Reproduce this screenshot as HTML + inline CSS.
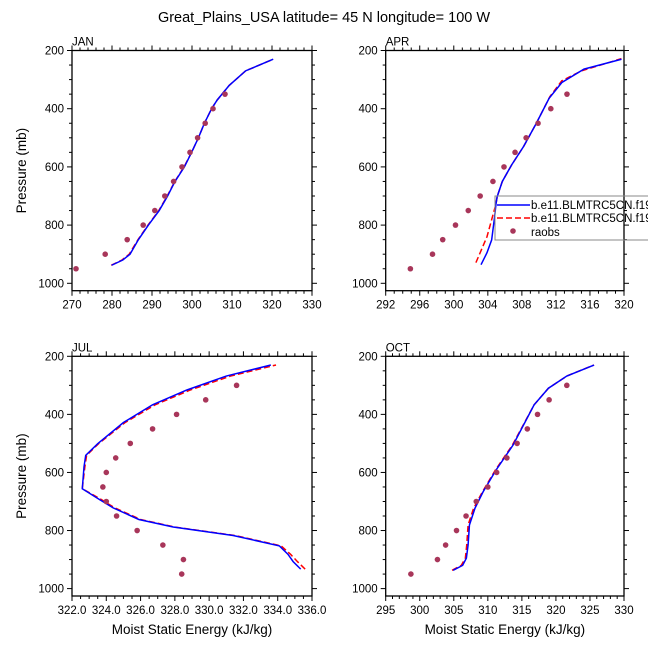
<!DOCTYPE html>
<html><head><meta charset="utf-8"><style>
body{margin:0;background:#fff}
svg{display:block;font-family:"Liberation Sans",sans-serif}
</style></head><body>
<svg id="c" width="648" height="649" viewBox="0 0 648 649" xmlns="http://www.w3.org/2000/svg">
<text x="324" y="22" text-anchor="middle" font-size="14.5">Great_Plains_USA  latitude= 45 N longitude= 100 W</text>
</svg>
<script>
const janModelP=[938,920,900,850,800,750,700,650,600,550,500,450,400,370,320,270,230];
const janModelX=[279.9,282.7,284.5,286.6,289.1,291.8,293.9,295.75,298.1,299.9,301.6,303.1,304.9,306.3,309.3,313.4,320.3];
const janRedX=[279.8,282.5,284.3,286.5,289.0,291.7,293.8,295.7,298.0,299.9,301.6,303.1,304.9,306.3,309.3,313.4,320.3];
const janObsP=[950,900,850,800,750,700,650,600,550,500,450,400,350];
const janObsX=[271,278.3,283.8,287.8,290.7,293.2,295.4,297.5,299.5,301.4,303.3,305.25,308.25];

const aprModelP=[936,895,851,771,727,702,650,593,530,450,364,310,264,230];
const aprModelX=[303.2,303.9,304.45,304.8,304.96,305.1,305.7,306.8,308.2,309.7,311.2,312.7,315.3,319.7];
const aprRedP=[929,840,727,702,650,593,530,450,358,304,270,228];
const aprRedX=[302.6,303.9,304.96,305.1,305.7,306.8,308.2,309.7,311.3,312.7,315.0,319.7];
const aprObsP=[950,900,850,800,750,700,650,600,550,500,450,400,350];
const aprObsX=[294.9,297.5,298.7,300.2,301.7,303.1,304.6,305.9,307.2,308.5,309.9,311.4,313.3];

const julModelP=[933,907,882,853,817,788,762,722,693,656,581,541,501,428,367,316,268,230];
const julModelX=[335.34,334.9,334.6,334.1,331.4,327.9,325.9,324.4,323.6,322.6,322.7,322.8,323.5,325.0,326.7,328.7,331.0,333.6];
const julRedX=[335.6,335.15,334.75,334.2,331.5,328.0,326.0,324.5,323.7,322.6,322.75,322.85,323.55,325.1,326.85,328.9,331.25,333.9];
const julObsP=[950,900,850,800,750,700,650,600,550,500,450,400,350,300];
const julObsX=[328.4,328.5,327.3,325.8,324.6,324.0,323.8,324.0,324.55,325.4,326.7,328.1,329.8,331.6];

const octModelP=[937,920,895,850,781,724,667,592,506,367,310,268,230];
const octModelX=[304.9,306.3,306.85,307.1,307.3,308.1,309.3,311.2,313.7,316.8,318.9,321.6,325.6];
const octRedX=[304.75,306.1,306.7,306.9,307.1,307.9,309.2,311.1,313.6,316.8,318.9,321.6,325.6];
const octObsP=[950,900,850,800,750,700,650,600,550,500,450,400,350,300];
const octObsX=[298.7,302.6,303.8,305.4,306.8,308.3,310.0,311.3,312.8,314.3,315.8,317.3,319.0,321.6];

const NS="http://www.w3.org/2000/svg";
const svg=document.getElementById('c');
function mk(tag,attrs,parent){const e=document.createElementNS(NS,tag);for(const k in attrs)e.setAttribute(k,attrs[k]);(parent||svg).appendChild(e);return e;}

const panels=[
 {name:'jan',title:'JAN',L:72,R:312,T:50.5,B:290.7,xmin:270,xmax:330,maj:10,min:2,dec:0,
  mp:janModelP,mx:janModelX,rp:janModelP,rx:janRedX,op:janObsP,ox:janObsX,ylab:true,xlab:false},
 {name:'apr',title:'APR',L:385.7,R:624,T:50.5,B:290.7,xmin:292,xmax:320,maj:4,min:1,dec:0,
  mp:aprModelP,mx:aprModelX,rp:aprRedP,rx:aprRedX,op:aprObsP,ox:aprObsX,ylab:false,xlab:false,legend:true},
 {name:'jul',title:'JUL',L:72,R:312,T:356.3,B:596,xmin:322,xmax:336,maj:2,min:0.5,dec:1,
  mp:julModelP,mx:julModelX,rp:julModelP,rx:julRedX,op:julObsP,ox:julObsX,ylab:true,xlab:true},
 {name:'oct',title:'OCT',L:385.7,R:624,T:356.3,B:596,xmin:295,xmax:330,maj:5,min:1,dec:0,
  mp:octModelP,mx:octModelX,rp:octModelP,rx:octRedX,op:octObsP,ox:octObsX,ylab:false,xlab:true}
];

panels.forEach(pn=>{
  const g=mk('g',{});
  
  
  const ppx=(pn.B-pn.T-7.4)/800;
  const y=p=>pn.T+(p-200)*ppx;
  const x=v=>pn.L+(v-pn.xmin)/(pn.xmax-pn.xmin)*(pn.R-pn.L);
  for(let p=200;p<=1025;p+=50){
    const major=p%200===0, len=major?5:3;
    const l1=mk('line',{x1:pn.L-len,x2:pn.L,y1:y(p),y2:y(p),stroke:'#000','stroke-width':1},g);
    
    
    const l2=mk('line',{x1:pn.R,x2:pn.R+len,y1:y(p),y2:y(p),stroke:'#000','stroke-width':1},g);
    
    
    if(major){
      const t=mk('text',{x:pn.L-8,y:y(p)+4,'text-anchor':'end','font-size':11.5},g);
      t.textContent=p;
      
      
    }
  }
  const nmin=Math.round((pn.xmax-pn.xmin)/pn.min);
  for(let i=0;i<=nmin;i++){
    const v=pn.xmin+i*pn.min;
    const major=Math.abs((v-pn.xmin)/pn.maj-Math.round((v-pn.xmin)/pn.maj))<1e-6;
    const len=major?5:3;
    const b=mk('line',{x1:x(v),x2:x(v),y1:pn.B,y2:pn.B+len,stroke:'#000','stroke-width':1},g);
    
    
    const t2=mk('line',{x1:x(v),x2:x(v),y1:pn.T-len,y2:pn.T,stroke:'#000','stroke-width':1},g);
    
    
    if(major){
      const t=mk('text',{x:x(v),y:pn.B+18,'text-anchor':'middle','font-size':11.5},g);
      t.textContent=v.toFixed(pn.dec);
      
      
    }
  }
  const fr=mk('rect',{x:pn.L,y:pn.T,width:pn.R-pn.L,height:pn.B-pn.T,fill:'none',stroke:'#000','stroke-width':1.3},g);
  
  
  const tt=mk('text',{x:pn.L,y:pn.T-5,'font-size':11.5},g);
  tt.textContent=pn.title;
  
  
  if(pn.ylab){
    const cy=(pn.T+pn.B)/2;
    const yl=mk('text',{x:26,y:cy,'text-anchor':'middle','font-size':13.5,transform:`rotate(-90 26 ${cy})`},g);
    yl.textContent='Pressure (mb)';
    
    
  }
  if(pn.xlab){
    const xl=mk('text',{x:(pn.L+pn.R)/2,y:pn.B+38,'text-anchor':'middle','font-size':13.5},g);
    xl.textContent='Moist Static Energy (kJ/kg)';
    
    
  }
  const rl=mk('polyline',{points:pn.rp.map((p,i)=>x(pn.rx[i])+','+y(p)).join(' '),fill:'none',stroke:'#ff0000','stroke-width':1.5,'stroke-dasharray':'6,3'},g);
  
  
  const bl=mk('polyline',{points:pn.mp.map((p,i)=>x(pn.mx[i])+','+y(p)).join(' '),fill:'none',stroke:'#0000ff','stroke-width':1.5},g);
  
  
  pn.op.forEach((p,i)=>{
    const c=mk('circle',{cx:x(pn.ox[i]),cy:y(p),r:2.8,fill:'#a8365a'},g);
    
    
  });
  if(pn.legend){
    const lg=mk('g',{},g);
    
    
    mk('rect',{x:495,y:196,width:160,height:44,fill:'none',stroke:'#888','stroke-width':1},lg);
    const e1=mk('line',{x1:497,x2:530,y1:205,y2:205,stroke:'#0000ff','stroke-width':1.5},lg);
    
    
    const e2=mk('line',{x1:497,x2:530,y1:218,y2:218,stroke:'#ff0000','stroke-width':1.5,'stroke-dasharray':'6,3'},lg);
    
    
    const e3=mk('circle',{cx:513,cy:231,r:2.8,fill:'#a8365a'},lg);
    
    
    [['b.e11.BLMTRC5CN.f19',209],['b.e11.BLMTRC5CN.f19',222],['raobs',236]].forEach(a=>{
      const t=mk('text',{x:531,y:a[1],'font-size':11.5},lg);
      t.textContent=a[0];
      
      
    });
  }
});
</script>
</body></html>
